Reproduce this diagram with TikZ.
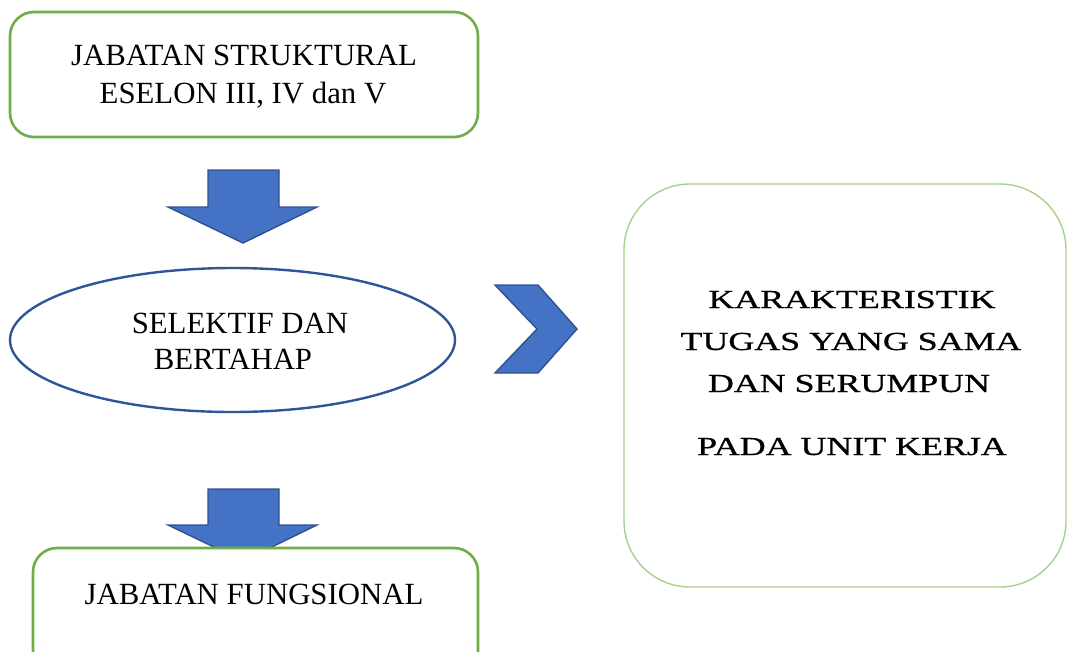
\documentclass[tikz,border=0pt]{standalone}
\usepackage{fontspec}
\setmainfont{Liberation Serif}
\newfontfamily\heavyserif[FakeBold=0.6]{Liberation Serif}
\usetikzlibrary{shapes.geometric}
\definecolor{boxgreen}{HTML}{70AD47}
\definecolor{lightgreen}{HTML}{A9D18E}
\definecolor{arrowfill}{HTML}{4472C4}
\definecolor{arrowedge}{HTML}{2F528F}
\definecolor{ellipseedge}{HTML}{2F5597}
\tikzset{
  greenbox/.style={draw=boxgreen, line width=2.6pt, rounded corners=24pt, fill=white, inner sep=0pt},
  bigbox/.style={draw=lightgreen, line width=1.4pt, rounded corners=66pt, fill=white, inner sep=0pt},
  blockarrow/.style={fill=arrowfill, draw=arrowedge, line width=1.4pt, line join=miter},
  txt/.style={anchor=base, inner sep=0pt, font=\fontsize{30.8}{36}\selectfont},
  widetxt/.style={anchor=base, inner sep=0pt, font=\heavyserif\fontsize{26}{32}\selectfont},
}
\newcommand{\widen}[1]{\scalebox{1.38}[1]{#1}}
\begin{document}
\begin{tikzpicture}[x=1pt,y=-1pt]
\useasboundingbox (0,0) rectangle (1068,651);
\clip (0,0) rectangle (1068,651);
% top box
\node[greenbox, minimum width=468pt, minimum height=125pt] (top) at (244,74.5) {};
\node[txt] (top1) at (244,65) {JABATAN STRUKTURAL};
\node[txt] (top2) at (243,103) {ESELON III, IV dan V};
% first down arrow
\draw[blockarrow] (208,170) -- (279,170) -- (279,207) -- (317,207) -- (243,243) -- (168,207) -- (208,207) -- cycle;
% ellipse
\node[ellipse, draw=ellipseedge, line width=2.4pt, minimum width=445pt, minimum height=144pt, inner sep=0pt] (sel) at (232.5,340) {};
\node[txt] (sel1) at (240,333) {SELEKTIF DAN};
\node[txt] (sel2) at (233,369) {BERTAHAP};
% chevron
\draw[blockarrow] (495,285) -- (538,285) -- (577,329) -- (538,373) -- (495,373) -- (537,329) -- cycle;
% second down arrow
\draw[blockarrow] (208,489) -- (279,489) -- (279,525) -- (317,525) -- (243,561) -- (168,525) -- (208,525) -- cycle;
% bottom box
\node[greenbox, minimum width=445pt, minimum height=130pt] (bot) at (255.5,613) {};
\node[txt] (bot1) at (254,604) {JABATAN FUNGSIONAL};
% right box
\node[bigbox, minimum width=442pt, minimum height=403pt] (right) at (845,385.5) {};
\node[widetxt] (r1) at (852,308) {\widen{KARAKTERISTIK}};
\node[widetxt] (r2) at (851,350) {\widen{TUGAS YANG SAMA}};
\node[widetxt] (r3) at (849,392) {\widen{DAN SERUMPUN}};
\node[widetxt] (r4) at (852,455) {\widen{PADA UNIT KERJA}};
\end{tikzpicture}
\end{document}
